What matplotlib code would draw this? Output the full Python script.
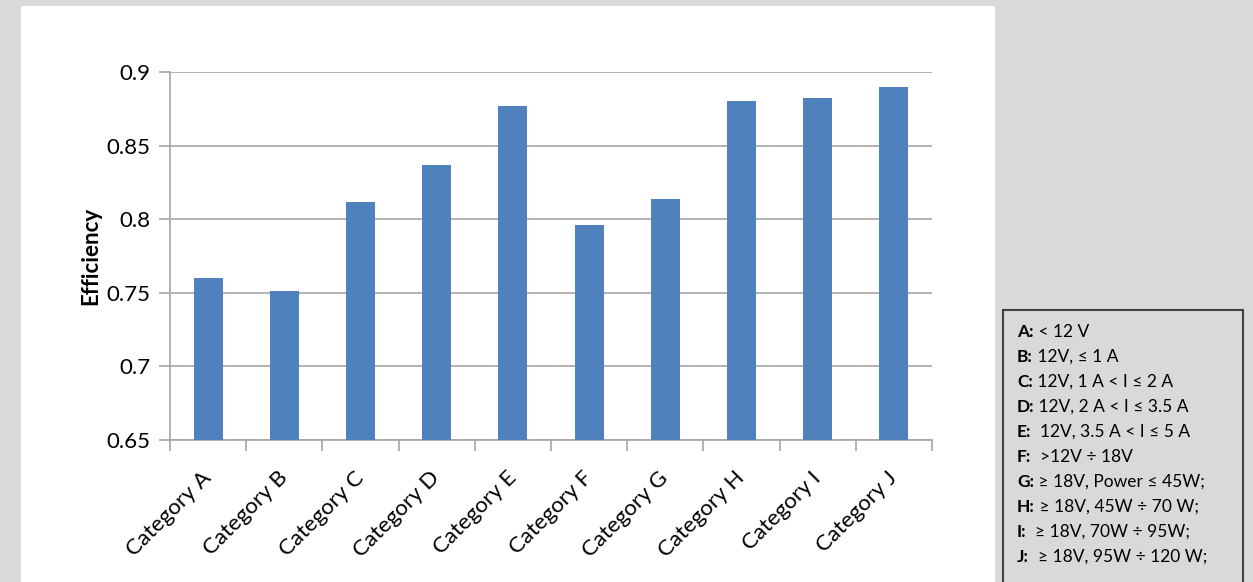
import matplotlib
matplotlib.use("Agg")
import matplotlib.pyplot as plt
from matplotlib.patches import Rectangle
import numpy as np

plt.rcParams["font.family"] = ["Lato", "DejaVu Sans"]

categories = ["Category A", "Category B", "Category C", "Category D", "Category E",
              "Category F", "Category G", "Category H", "Category I", "Category J"]
efficiency = [0.760, 0.751, 0.812, 0.837, 0.877, 0.796, 0.814, 0.880, 0.882, 0.890]
y_ticks = [0.65, 0.7, 0.75, 0.8, 0.85, 0.9]
y_tick_labels = ["0.65", "0.7", "0.75", "0.8", "0.85", "0.9"]

key_letters = ["A:", "B:", "C:", "D:", "E:", "F:", "G:", "H:", "I:", "J:"]
key_text = [" < 12 V", " 12V, \u2264 1 A", " 12V, 1 A < I \u2264 2 A", " 12V, 2 A < I \u2264 3.5 A",
            "  12V, 3.5 A < I \u2264 5 A", "  >12V \u00f7 18V", " \u2265 18V, Power \u2264 45W;",
            " \u2265 18V, 45W \u00f7 70 W;", "  \u2265 18V, 70W \u00f7 95W;", "  \u2265 18V, 95W \u00f7 120 W;"]

BAR = "#4f81bd"
GRID = "#a6a6a6"
W, H = 1253, 582

fig = plt.figure(figsize=(W / 100, H / 100), dpi=100)
fig.patch.set_facecolor("#d9d9d9")

# white chart area
fig.add_artist(Rectangle((21 / W, 0), (995 - 21) / W, (H - 6) / H,
                         transform=fig.transFigure, facecolor="white", edgecolor="none", zorder=0))

ax = fig.add_axes([170 / W, (H - 440) / H, (932 - 170) / W, (440 - 72) / H])
ax.set_facecolor("white")
x = np.arange(len(categories))
ax.bar(x, efficiency, width=0.38, color=BAR, zorder=3)

ax.set_xlim(-0.5, len(categories) - 0.5)
ax.set_ylim(0.65, 0.9)
ax.set_yticks(y_ticks)
ax.set_yticklabels(y_tick_labels, fontsize=16)
ax.yaxis.grid(True, color=GRID, linewidth=1.2, zorder=1)

ax.set_xticks(x)
ax.set_xticklabels(categories, fontsize=16, rotation=45, ha="right", va="center",
                   rotation_mode="anchor")
ax.set_xticks(np.arange(len(categories) + 1) - 0.5, minor=True)
ax.tick_params(axis="x", which="major", length=0, pad=25)
ax.tick_params(axis="x", which="minor", length=8, color=GRID, width=1.2)
ax.tick_params(axis="y", length=8, color=GRID, width=1.2, pad=6)

for side in ("top", "right"):
    ax.spines[side].set_visible(False)
for side in ("left", "bottom"):
    ax.spines[side].set_color(GRID)
    ax.spines[side].set_linewidth(1.2)

ax.set_ylabel("Efficiency", fontsize=16, fontweight="bold", labelpad=4)

# category key box
fig.add_artist(Rectangle((1003 / W, -0.05), 240 / W, (H - 310) / H + 0.05,
                         transform=fig.transFigure, facecolor="#d9d9d9", edgecolor="#404040",
                         linewidth=1.5, zorder=1))
renderer = fig.canvas.get_renderer()
for i, (letter, text) in enumerate(zip(key_letters, key_text)):
    y = 1 - (332 + 25 * i) / H
    t = fig.text(1017 / W, y, letter, fontsize=12.5, fontweight="bold", va="center", zorder=2)
    lw = t.get_window_extent(renderer).width
    fig.text((1017 + lw) / W, y, text, fontsize=12.5, va="center", zorder=2)

fig.savefig("out.png", dpi=100, facecolor=fig.get_facecolor())
